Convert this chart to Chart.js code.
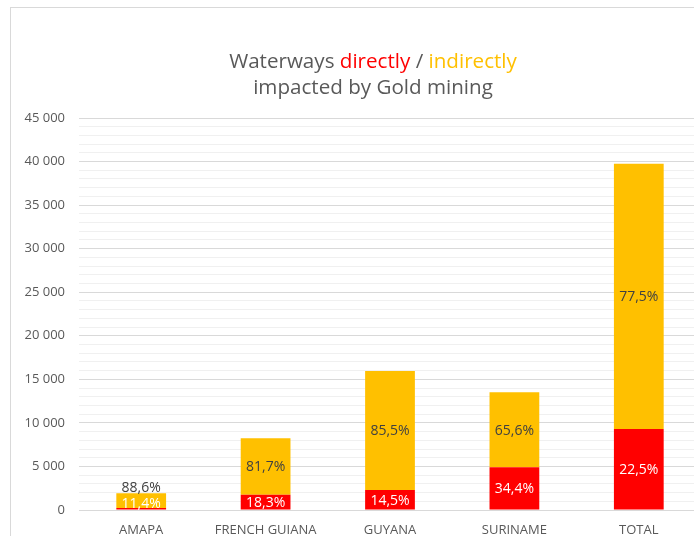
<!DOCTYPE html>
<html>
<head>
<meta charset="utf-8">
<script src="https://cdn.jsdelivr.net/npm/chart.js@4.4.1/dist/chart.umd.min.js"></script>
<style>
  html, body { margin: 0; padding: 0; background: #fff; overflow: hidden; }
  #wrap { position: relative; width: 720px; height: 536px; }
</style>
</head>
<body>
<div id="wrap"><canvas id="chart" width="720" height="536"></canvas></div>
<script>
const categories = ['AMAPA', 'FRENCH GUIANA', 'GUYANA', 'SURINAME', 'TOTAL'];
const directValues = [220, 1750, 2300, 4900, 9300];
const indirectValues = [1700, 6490, 13670, 8620, 30450];
const directLabels = ['11,4%', '18,3%', '14,5%', '34,4%', '22,5%'];
const indirectLabels = ['88,6%', '81,7%', '85,5%', '65,6%', '77,5%'];
const titleLine1 = [['Waterways ', '#595959'], ['directly', '#ff0000'], [' / ', '#595959'], ['indirectly', '#ffc000']];
const titleLine2 = 'impacted by Gold mining';

const FONT = '"Open Sans", "Liberation Sans", sans-serif';

function formatThousands(v) {
    return String(v).replace(/\B(?=(\d{3})+(?!\d))/g, ' ');
}

// frame + white background
const framePlugin = {
    id: 'frame',
    beforeDraw(chart) {
        const ctx = chart.ctx;
        ctx.save();
        ctx.fillStyle = '#fff';
        ctx.fillRect(0, 0, chart.width, chart.height);
        ctx.strokeStyle = '#d9d9d9';
        ctx.lineWidth = 1;
        ctx.strokeRect(10.5, 7.5, 800, 600);
        ctx.restore();
    }
};

// two-line title with coloured words
const titlePlugin = {
    id: 'colorTitle',
    afterDraw(chart) {
        const ctx = chart.ctx;
        const cx = 373;
        ctx.save();
        ctx.font = '20.6px ' + FONT;
        ctx.textBaseline = 'alphabetic';
        ctx.textAlign = 'left';
        let total = 0;
        titleLine1.forEach(p => { total += ctx.measureText(p[0]).width; });
        let x = cx - total / 2;
        titleLine1.forEach(p => {
            ctx.fillStyle = p[1];
            ctx.fillText(p[0], x, 68);
            x += ctx.measureText(p[0]).width;
        });
        ctx.fillStyle = '#595959';
        ctx.textAlign = 'center';
        ctx.fillText(titleLine2, cx, 94);
        ctx.restore();
    }
};

// percentage labels on the segments
const labelPlugin = {
    id: 'segLabels',
    afterDatasetsDraw(chart) {
        const ctx = chart.ctx;
        const m0 = chart.getDatasetMeta(0);
        const m1 = chart.getDatasetMeta(1);
        ctx.save();
        ctx.font = '14px ' + FONT;
        ctx.textAlign = 'center';
        categories.forEach((c, i) => {
            const b0 = m0.data[i];
            const b1 = m1.data[i];
            const stackH = b0.base - b1.y;
            if (stackH < 30) {
                ctx.textBaseline = 'alphabetic';
                ctx.fillStyle = '#fff';
                ctx.fillText(directLabels[i], b0.x, b0.base - 2);
                ctx.fillStyle = '#404040';
                ctx.fillText(indirectLabels[i], b1.x, b1.y - 1);
            } else {
                ctx.textBaseline = 'middle';
                ctx.fillStyle = '#fff';
                ctx.fillText(directLabels[i], b0.x, (b0.y + b0.base) / 2 + 1);
                ctx.fillStyle = '#404040';
                ctx.fillText(indirectLabels[i], b1.x, (b1.y + b1.base) / 2 + 1);
            }
        });
        ctx.restore();
    }
};

new Chart(document.getElementById('chart'), {
    type: 'bar',
    data: {
        labels: categories,
        datasets: [{
            label: 'directly',
            data: directValues,
            backgroundColor: '#ff0000',
            categoryPercentage: 1,
            barPercentage: 0.4
        }, {
            label: 'indirectly',
            data: indirectValues,
            backgroundColor: '#ffc000',
            categoryPercentage: 1,
            barPercentage: 0.4
        }]
    },
    options: {
        responsive: false,
        animation: false,
        layout: {
            padding: { top: 118, right: 19, bottom: 0, left: 0 }
        },
        scales: {
            x: {
                stacked: true,
                grid: { display: false },
                border: { display: false },
                ticks: {
                    color: '#595959',
                    font: { family: FONT, size: 13 },
                    padding: 4,
                    maxRotation: 0
                },
                afterFit(scale) { scale.height = 26; }
            },
            y: {
                stacked: true,
                min: 0,
                max: 45000,
                border: { display: false },
                grid: {
                    drawTicks: false,
                    color: ctx => (ctx.tick && ctx.tick.value % 5000 === 0) ? '#d9d9d9' : '#f0f0f0'
                },
                ticks: {
                    stepSize: 1000,
                    autoSkip: false,
                    color: '#595959',
                    font: { family: FONT, size: 13 },
                    padding: 14,
                    callback: v => (v % 5000 === 0) ? formatThousands(v) : ''
                },
                afterFit(scale) { scale.width = 79; }
            }
        },
        plugins: {
            legend: { display: false },
            tooltip: { enabled: false }
        }
    },
    plugins: [framePlugin, titlePlugin, labelPlugin]
});
</script>
</body>
</html>
